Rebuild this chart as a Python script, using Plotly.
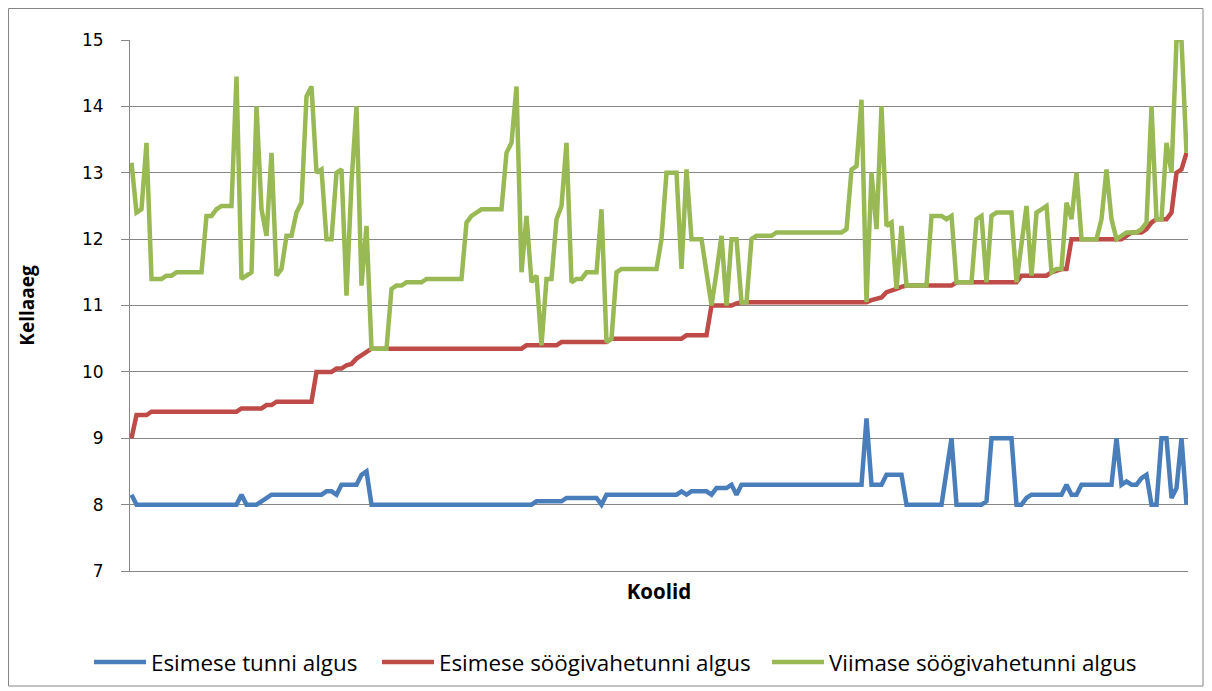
import plotly.graph_objects as go

# ---- data (one value per school) ----
esimese_tunni = [
    8.15, 8.0, 8.0, 8.0, 8.0, 8.0, 8.0, 8.0, 8.0, 8.0,
    8.0, 8.0, 8.0, 8.0, 8.0, 8.0, 8.0, 8.0, 8.0, 8.0,
    8.0, 8.0, 8.15, 8.0, 8.0, 8.0, 8.05, 8.1, 8.15, 8.15,
    8.15, 8.15, 8.15, 8.15, 8.15, 8.15, 8.15, 8.15, 8.15, 8.2,
    8.2, 8.15, 8.3, 8.3, 8.3, 8.3, 8.45, 8.5, 8.0, 8.0,
    8.0, 8.0, 8.0, 8.0, 8.0, 8.0, 8.0, 8.0, 8.0, 8.0,
    8.0, 8.0, 8.0, 8.0, 8.0, 8.0, 8.0, 8.0, 8.0, 8.0,
    8.0, 8.0, 8.0, 8.0, 8.0, 8.0, 8.0, 8.0, 8.0, 8.0,
    8.0, 8.05, 8.05, 8.05, 8.05, 8.05, 8.05, 8.1, 8.1, 8.1,
    8.1, 8.1, 8.1, 8.1, 8.0, 8.15, 8.15, 8.15, 8.15, 8.15,
    8.15, 8.15, 8.15, 8.15, 8.15, 8.15, 8.15, 8.15, 8.15, 8.15,
    8.2, 8.15, 8.2, 8.2, 8.2, 8.2, 8.15, 8.25, 8.25, 8.25,
    8.3, 8.15, 8.3, 8.3, 8.3, 8.3, 8.3, 8.3, 8.3, 8.3,
    8.3, 8.3, 8.3, 8.3, 8.3, 8.3, 8.3, 8.3, 8.3, 8.3,
    8.3, 8.3, 8.3, 8.3, 8.3, 8.3, 8.3, 9.3, 8.3, 8.3,
    8.3, 8.45, 8.45, 8.45, 8.45, 8.0, 8.0, 8.0, 8.0, 8.0,
    8.0, 8.0, 8.0, 8.5, 9.0, 8.0, 8.0, 8.0, 8.0, 8.0,
    8.0, 8.05, 9.0, 9.0, 9.0, 9.0, 9.0, 8.0, 8.0, 8.1,
    8.15, 8.15, 8.15, 8.15, 8.15, 8.15, 8.15, 8.3, 8.15, 8.15,
    8.3, 8.3, 8.3, 8.3, 8.3, 8.3, 8.3, 9.0, 8.3, 8.35,
    8.3, 8.3, 8.4, 8.45, 8.0, 8.0, 9.0, 9.0, 8.1, 8.25, 9.0, 8.0,
]

esimese_soogi = [
    9.0, 9.35, 9.35, 9.35, 9.4, 9.4, 9.4, 9.4, 9.4, 9.4,
    9.4, 9.4, 9.4, 9.4, 9.4, 9.4, 9.4, 9.4, 9.4, 9.4,
    9.4, 9.4, 9.45, 9.45, 9.45, 9.45, 9.45, 9.5, 9.5, 9.55,
    9.55, 9.55, 9.55, 9.55, 9.55, 9.55, 9.55, 10.0, 10.0, 10.0,
    10.0, 10.05, 10.05, 10.1, 10.12, 10.2, 10.25, 10.3, 10.35, 10.35,
    10.35, 10.35, 10.35, 10.35, 10.35, 10.35, 10.35, 10.35, 10.35, 10.35,
    10.35, 10.35, 10.35, 10.35, 10.35, 10.35, 10.35, 10.35, 10.35, 10.35,
    10.35, 10.35, 10.35, 10.35, 10.35, 10.35, 10.35, 10.35, 10.35, 10.4,
    10.4, 10.4, 10.4, 10.4, 10.4, 10.4, 10.45, 10.45, 10.45, 10.45,
    10.45, 10.45, 10.45, 10.45, 10.45, 10.45, 10.5, 10.5, 10.5, 10.5,
    10.5, 10.5, 10.5, 10.5, 10.5, 10.5, 10.5, 10.5, 10.5, 10.5,
    10.5, 10.55, 10.55, 10.55, 10.55, 10.55, 11.0, 11.0, 11.0, 11.0,
    11.0, 11.03, 11.05, 11.05, 11.05, 11.05, 11.05, 11.05, 11.05, 11.05,
    11.05, 11.05, 11.05, 11.05, 11.05, 11.05, 11.05, 11.05, 11.05, 11.05,
    11.05, 11.05, 11.05, 11.05, 11.05, 11.05, 11.05, 11.05, 11.08, 11.1,
    11.12, 11.2, 11.22, 11.25, 11.28, 11.3, 11.3, 11.3, 11.3, 11.3,
    11.3, 11.3, 11.3, 11.3, 11.3, 11.35, 11.35, 11.35, 11.35, 11.35,
    11.35, 11.35, 11.35, 11.35, 11.35, 11.35, 11.35, 11.35, 11.45, 11.45,
    11.45, 11.45, 11.45, 11.45, 11.5, 11.52, 11.55, 11.55, 12.0, 12.0,
    12.0, 12.0, 12.0, 12.0, 12.0, 12.0, 12.0, 12.0, 12.0, 12.05,
    12.1, 12.1, 12.1, 12.15, 12.25, 12.3, 12.3, 12.3, 12.4, 13.0, 13.05, 13.3,
]

viimase_soogi = [
    13.15, 12.4, 12.45, 13.45, 11.4, 11.4, 11.4, 11.45, 11.45, 11.5,
    11.5, 11.5, 11.5, 11.5, 11.5, 12.35, 12.35, 12.45, 12.5, 12.5,
    12.5, 14.45, 11.4, 11.45, 11.5, 14.0, 12.45, 12.05, 13.3, 11.45,
    11.55, 12.05, 12.05, 12.4, 12.55, 14.15, 14.3, 13.0, 13.05, 12.0,
    12.0, 13.0, 13.05, 11.15, 12.85, 14.0, 11.3, 12.2, 10.35, 10.35,
    10.35, 10.35, 11.25, 11.3, 11.3, 11.35, 11.35, 11.35, 11.35, 11.4,
    11.4, 11.4, 11.4, 11.4, 11.4, 11.4, 11.4, 12.25, 12.35, 12.4,
    12.45, 12.45, 12.45, 12.45, 12.45, 13.3, 13.45, 14.3, 11.5, 12.35,
    11.35, 11.45, 10.4, 11.4, 11.4, 12.3, 12.5, 13.45, 11.35, 11.4,
    11.4, 11.5, 11.5, 11.5, 12.45, 10.45, 10.5, 11.5, 11.55, 11.55,
    11.55, 11.55, 11.55, 11.55, 11.55, 11.55, 12.0, 13.0, 13.0, 13.0,
    11.55, 13.05, 12.0, 12.0, 12.0, 11.5, 11.0, 11.5, 12.05, 11.0,
    12.0, 12.0, 11.05, 11.05, 12.0, 12.05, 12.05, 12.05, 12.05, 12.1,
    12.1, 12.1, 12.1, 12.1, 12.1, 12.1, 12.1, 12.1, 12.1, 12.1,
    12.1, 12.1, 12.1, 12.15, 13.05, 13.1, 14.1, 11.05, 13.0, 12.15,
    14.0, 12.2, 12.25, 11.25, 12.2, 11.3, 11.3, 11.3, 11.3, 11.3,
    12.35, 12.35, 12.35, 12.3, 12.35, 11.35, 11.35, 11.35, 11.35, 12.3,
    12.35, 11.35, 12.35, 12.4, 12.4, 12.4, 12.4, 11.35, 11.9, 12.5,
    11.45, 12.4, 12.45, 12.5, 11.5, 11.55, 11.55, 12.55, 12.3, 13.0,
    12.0, 12.0, 12.0, 12.0, 12.3, 13.05, 12.3, 12.0, 12.05, 12.1,
    12.1, 12.1, 12.15, 12.25, 14.0, 12.3, 12.3, 13.45, 13.0, 15.0, 15.0, 13.3,
]

series_names = ["Esimese tunni algus", "Esimese söögivahetunni algus", "Viimase söögivahetunni algus"]
series_colors = ["#4A7EBB", "#BE4B48", "#98B954"]
y_ticks = [7, 8, 9, 10, 11, 12, 13, 14, 15]
x_title = "Koolid"
y_title = "Kellaaeg"

koolid = list(range(1, len(esimese_tunni) + 1))

legend_ids = ["legend", "legend2", "legend3"]

fig = go.Figure()
for name, vals, col, lg in zip(series_names, [esimese_tunni, esimese_soogi, viimase_soogi],
                               series_colors, legend_ids):
    fig.add_trace(go.Scatter(x=koolid, y=vals, mode="lines", name=name, legend=lg,
                             line=dict(color=col, width=4.5)))

grid = "#868686"
txt_font = "Open Sans, Lato, sans-serif"
# page body has an 8px margin: figure sized/positioned to compensate
W, H = 1204, 683
L, T, R, B = 122, 32, 24, 120
pw, ph = W - L - R, H - T - B


def legend_at(px):
    return dict(orientation="h", x=(px - L) / pw, xanchor="left", y=-0.172, yanchor="middle",
                font=dict(family=txt_font, size=22.4, color="#000"), itemwidth=52,
                bgcolor="rgba(0,0,0,0)")


fig.update_layout(
    width=W, height=H,
    margin=dict(l=L, r=R, t=T, b=B, autoexpand=False),
    paper_bgcolor="white", plot_bgcolor="white",
    showlegend=True,
    legend=legend_at(81),
    legend2=legend_at(369),
    legend3=legend_at(759),
    xaxis=dict(range=[0.7, 212.3], showgrid=False, zeroline=False, showticklabels=False,
               ticks="", showline=True, linecolor=grid, linewidth=1, automargin=False,
               title=dict(text="<b>%s</b>" % x_title, standoff=13,
                          font=dict(family=txt_font, size=20.5, color="#000"))),
    yaxis=dict(range=[7, 15], tickvals=y_ticks, showgrid=True, gridcolor=grid, gridwidth=1,
               zeroline=False, showline=True, linecolor=grid, linewidth=1, automargin=False,
               ticks="outside", ticklen=8, tickcolor=grid, ticklabelstandoff=14,
               tickfont=dict(family="DejaVu Sans", size=17, color="#000"),
               title=dict(text="<b>%s</b>" % y_title, standoff=42,
                          font=dict(family=txt_font, size=19, color="#000"))),
    shapes=[dict(type="rect", xref="paper", yref="paper",
                 x0=(0.5 - L) / pw, x1=(1195 - L) / pw,
                 y0=(ph + T - 678) / ph, y1=(ph + T - 0.5) / ph,
                 line=dict(color="#868686", width=1), fillcolor="rgba(0,0,0,0)", layer="below")],
)

fig.write_html("out.html")
